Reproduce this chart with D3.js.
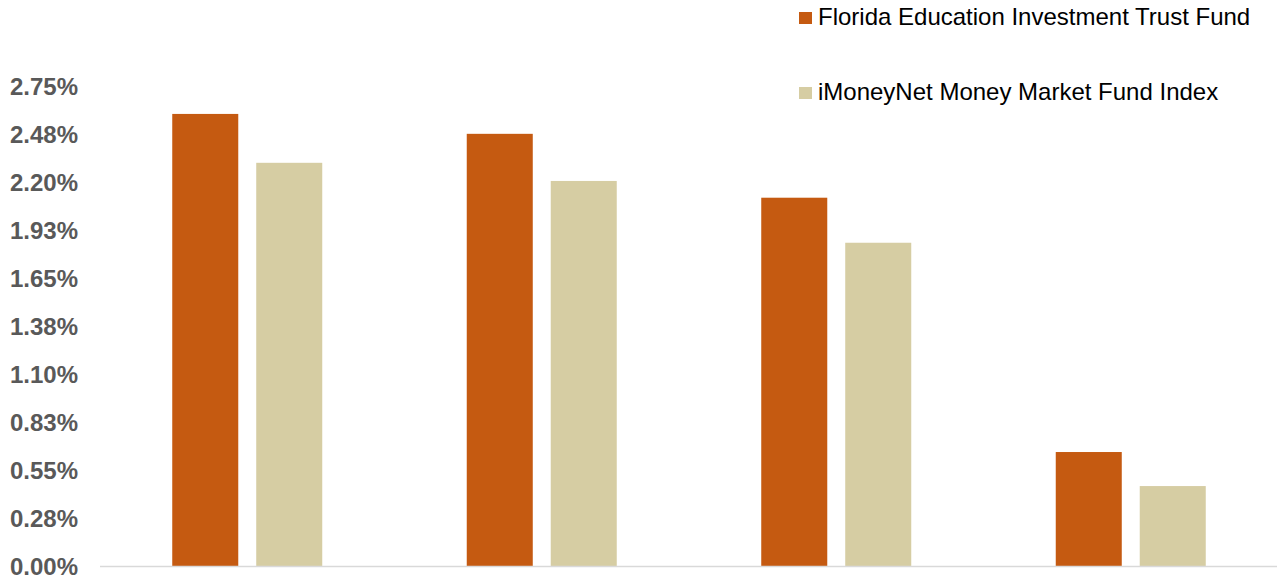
<!DOCTYPE html>
<html>
<head>
<meta charset="utf-8">
<script src="https://cdn.jsdelivr.net/npm/d3@7"></script>
<style>
  body { margin: 0; background: #fff; }
  svg { display: block; }
</style>
</head>
<body>
<div id="chart"></div>
<script>
// data
var periods = ['1 Year', '3 Years', '5 Years', '10 Years'];
var fundValues = [2.59, 2.476, 2.11, 0.653];
var indexValues = [2.31, 2.206, 1.852, 0.458];
var seriesNames = ['Florida Education Investment Trust Fund', 'iMoneyNet Money Market Fund Index'];
var yTicks = [0, 0.275, 0.55, 0.825, 1.1, 1.375, 1.65, 1.925, 2.2, 2.475, 2.75];
var yTickLabels = ['0.00%', '0.28%', '0.55%', '0.83%', '1.10%', '1.38%', '1.65%', '1.93%', '2.20%', '2.48%', '2.75%'];

var width = 1277;
var height = 577;
var colors = ['#C55A11', '#D6CDA3'];

var svg = d3.select('#chart')
    .append('svg')
    .attr('width', width)
    .attr('height', height);

// scales
var x0 = d3.scaleBand()
    .domain(periods)
    .range([100, 1278])
    .paddingInner(0)
    .paddingOuter(0);

var x1 = d3.scaleBand()
    .domain(seriesNames)
    .range([x0.bandwidth() / 2 - 75, x0.bandwidth() / 2 + 75])
    .paddingInner(0.214);

var y = d3.scaleLinear()
    .domain([0, 2.75])
    .range([566, 86]);

// y axis labels (no line, no ticks)
var yAxis = d3.axisLeft(y)
    .tickValues(yTicks)
    .tickSize(0)
    .tickPadding(0)
    .tickFormat(function(d, i) { return yTickLabels[i]; });

var gy = svg.append('g')
    .attr('transform', 'translate(78, 1)')
    .call(yAxis);
gy.select('.domain').remove();
gy.selectAll('text')
    .style('font-family', "'Liberation Sans', Arial, sans-serif")
    .style('font-size', '24px')
    .style('font-weight', 'bold')
    .style('fill', '#595959');

// bars
var rows = periods.map(function(p, i) {
    return { period: p, values: [fundValues[i], indexValues[i]] };
});

var groups = svg.append('g')
    .selectAll('g')
    .data(rows)
    .join('g')
    .attr('transform', function(d) { return 'translate(' + x0(d.period) + ',0)'; });

groups.selectAll('rect')
    .data(function(d) {
        return d.values.map(function(v, j) { return { key: seriesNames[j], value: v, idx: j }; });
    })
    .join('rect')
    .attr('x', function(d) { return x1(d.key); })
    .attr('y', function(d) { return y(d.value); })
    .attr('width', x1.bandwidth())
    .attr('height', function(d) { return y(0) - y(d.value); })
    .style('fill', function(d) { return colors[d.idx]; });

// x axis baseline
svg.append('line')
    .attr('x1', 100)
    .attr('x2', width)
    .attr('y1', y(0) + 0.5)
    .attr('y2', y(0) + 0.5)
    .attr('stroke', '#D9D9D9')
    .attr('stroke-width', 1.5);

// legend
var legend = svg.append('g')
    .selectAll('g')
    .data(seriesNames)
    .join('g')
    .attr('transform', function(d, i) { return 'translate(799,' + (12 + i * 75) + ')'; });

legend.append('rect')
    .attr('width', 13)
    .attr('height', 12)
    .style('fill', function(d, i) { return colors[i]; });

legend.append('text')
    .attr('x', 19)
    .attr('y', 13)
    .text(function(d) { return d; })
    .style('font-family', "'Liberation Sans', Arial, sans-serif")
    .style('font-size', '24px')
    .style('fill', '#000');
</script>
</body>
</html>
